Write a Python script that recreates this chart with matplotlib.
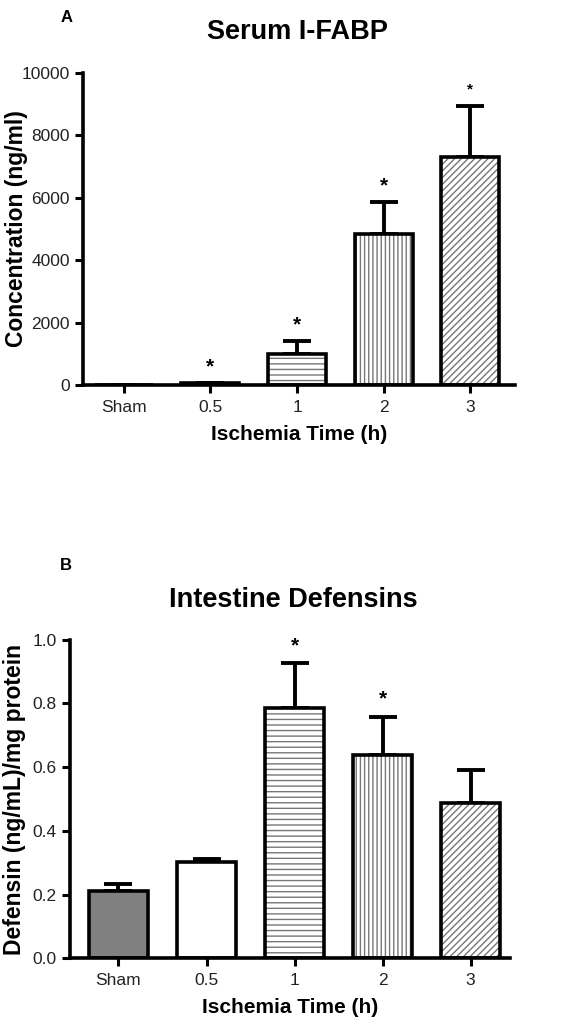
import numpy as np
import matplotlib
matplotlib.use("Agg")
import matplotlib.pyplot as plt

plt.rcParams['font.family'] = ['Liberation Sans', 'DejaVu Sans']
plt.rcParams['hatch.linewidth'] = 1.0

groups = ["Sham", "0.5", "1", "2", "3"]

# panel A: serum I-FABP (ng/ml)
ifabp_mean = [5, 80, 1000, 4850, 7300]
ifabp_err = [0, 0, 400, 1000, 1650]
ifabp_star = [False, True, True, True, True]

# panel B: intestine defensins
def_mean = [0.212, 0.302, 0.785, 0.638, 0.488]
def_err = [0.022, 0.010, 0.142, 0.120, 0.102]
def_star = [False, False, True, True, False]

fills = ["#808080", "white", "white", "white", "white"]
hatches = [None, None, "---", "||||", "/////"]


def panel(ax, means, errs, stars, ylim, yticks, ylabel, star_off, xlim, ylab_x):
    x = np.arange(len(groups))
    ax.errorbar(x, means, yerr=[np.zeros(len(x)), errs], fmt="none", ecolor="k",
                elinewidth=2.8, capsize=10, capthick=2.8, zorder=1)
    for i in range(len(x)):
        ax.bar(x[i], means[i], width=0.67, color=fills[i], hatch=hatches[i],
               edgecolor="#777777", linewidth=0, zorder=2)
        ax.bar(x[i], means[i], width=0.67, fill=False, edgecolor="black",
               linewidth=2.6, zorder=3)
        if stars[i]:
            ax.text(x[i], means[i] + errs[i] + star_off, "*", ha="center", va="center",
                    fontsize=15, fontweight="bold")
    ax.set_xlim(*xlim)
    ax.set_ylim(*ylim)
    ax.set_yticks(yticks)
    ax.set_xticks(x)
    ax.set_xticklabels(groups)
    for s in ["top", "right"]:
        ax.spines[s].set_visible(False)
    for s in ["left", "bottom"]:
        ax.spines[s].set_linewidth(2.6)
    ax.tick_params(axis="both", width=2.2, length=6, labelsize=12.5, colors="black",
                   labelcolor="#222222")
    ax.tick_params(axis="x", pad=5)
    ax.set_ylabel(ylabel, fontsize=16.5, fontweight="bold")
    ax.yaxis.set_label_coords(ylab_x, 0.5)
    ax.set_xlabel("Ischemia Time (h)", fontsize=15, fontweight="bold", labelpad=7)


fig = plt.figure(figsize=(5.65, 10.27), dpi=100)
axA = fig.add_axes([0.147, 0.625, 0.765, 0.304])
axB = fig.add_axes([0.124, 0.067, 0.779, 0.310])

panel(axA, ifabp_mean, ifabp_err, ifabp_star, (0, 10000),
      [0, 2000, 4000, 6000, 8000, 10000], "Concentration (ng/ml)",
      520, (-0.47, 4.52), -0.128)
axA.texts[-1].set_fontsize(11)
panel(axB, def_mean, def_err, def_star, (0, 1.0),
      [0.0, 0.2, 0.4, 0.6, 0.8, 1.0], "Defensin (ng/mL)/mg protein",
      0.055, (-0.55, 4.45), -0.100)
axB.set_yticklabels(["0.0", "0.2", "0.4", "0.6", "0.8", "1.0"])

fig.text(0.526, 0.969, "Serum I-FABP", ha="center", va="center",
         fontsize=19.5, fontweight="bold")
fig.text(0.519, 0.416, "Intestine Defensins", ha="center", va="center",
         fontsize=19.5, fontweight="bold")
fig.text(0.117, 0.983, "A", ha="center", va="center", fontsize=12, fontweight="bold")
fig.text(0.117, 0.449, "B", ha="center", va="center", fontsize=12, fontweight="bold")

fig.savefig("out.png", dpi=100)
